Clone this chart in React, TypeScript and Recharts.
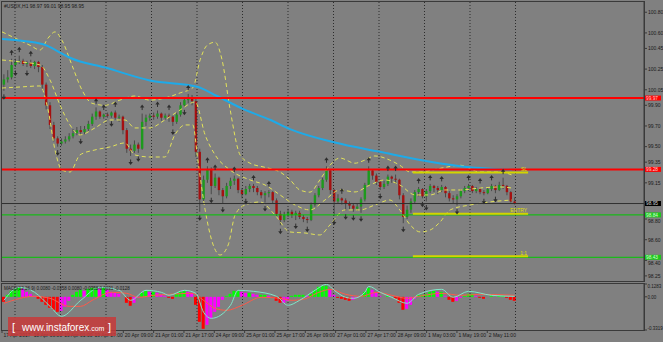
import React from 'react';
import { ComposedChart, Bar, Line, XAxis, YAxis, ReferenceLine, Cell } from 'recharts';

const FONT = '"Liberation Sans", Arial, sans-serif';
const BG = '#808080';
const SLOT_PX = 3.84; // one 2h candle
const X_MAX = 642 / SLOT_PX;

// USDX H1 (sampled every 2 hours)
const firstOpen = 100.1;
const closes = [
  100.15, 100.17, 100.29, 100.32, 100.33, 100.3, 100.31, 100.28, 100.32, 100.27,
  100.1, 99.9, 99.71, 99.58, 99.53, 99.55, 99.57, 99.6, 99.63, 99.66,
  99.64, 99.67, 99.72, 99.79, 99.84, 99.79, 99.81, 99.8, 99.83, 99.78,
  99.79, 99.66, 99.48, 99.46, 99.52, 99.48, 99.74, 99.78, 99.8, 99.79,
  99.82, 99.78, 99.8, 99.79, 99.74, 99.81, 99.9, 99.95, 99.98, 99.94,
  99.45, 98.99, 99.18, 99.28, 99.12, 99.2, 99.08, 99.02, 99.12, 99.17,
  99.19, 99.08, 99.04, 99.09, 99.12, 99.1, 99.06, 99.03, 99.05, 99.06,
  98.98, 98.85, 98.79, 98.84, 98.87, 98.84, 98.86, 98.82, 98.8, 98.79,
  98.94, 99.03, 99.1, 99.18, 99.27, 99.08, 98.97, 99.0, 98.98, 98.95,
  98.93, 98.9, 98.92, 98.99, 99.13, 99.27, 99.22, 99.16, 99.11, 99.14,
  99.21, 99.19, 99.18, 99.03, 98.82, 98.89, 98.97, 99.06, 99.09, 99.02,
  99.07, 99.12, 99.1, 99.08, 99.11, 99.05, 99.0, 98.99, 99.02, 99.07,
  99.1, 99.12, 99.07, 99.09, 99.06, 99.05, 99.09, 99.12, 99.08, 99.13,
  99.12, 99.06, 98.97, 98.95,
];
const highs = [
  100.2, 100.24, 100.35, 100.35, 100.38, 100.35, 100.33, 100.34, 100.33, 100.33,
  100.29, 100.12, 99.93, 99.74, 99.6, 99.58, 99.6, 99.63, 99.67, 99.69,
  99.7, 99.7, 99.75, 99.82, 99.88, 99.85, 99.82, 99.83, 99.84, 99.85,
  99.81, 99.8, 99.68, 99.52, 99.56, 99.54, 99.82, 99.81, 99.82, 99.83,
  99.85, 99.83, 99.82, 99.82, 99.8, 99.83, 99.93, 99.98, 100.01, 100.0,
  99.96, 99.48, 99.22, 99.31, 99.3, 99.24, 99.21, 99.1, 99.15, 99.2,
  99.22, 99.2, 99.1, 99.12, 99.14, 99.14, 99.12, 99.08, 99.07, 99.08,
  99.07, 99.0, 98.88, 98.87, 98.9, 98.89, 98.88, 98.88, 98.84, 98.82,
  98.96, 99.05, 99.12, 99.2, 99.31, 99.28, 99.09, 99.04, 99.01, 99.0,
  98.97, 98.95, 98.95, 99.01, 99.15, 99.31, 99.28, 99.24, 99.18, 99.17,
  99.23, 99.22, 99.23, 99.19, 99.05, 98.93, 99.0, 99.08, 99.11, 99.1,
  99.09, 99.14, 99.13, 99.12, 99.13, 99.12, 99.07, 99.03, 99.04, 99.09,
  99.12, 99.14, 99.13, 99.11, 99.11, 99.08, 99.11, 99.14, 99.13, 99.16,
  99.2, 99.13, 99.07, 99.01,
];
const lows = [
  100.04, 100.12, 100.15, 100.27, 100.3, 100.28, 100.27, 100.26, 100.25, 100.22,
  100.06, 99.86, 99.67, 99.55, 99.5, 99.51, 99.53, 99.55, 99.58, 99.61,
  99.61, 99.62, 99.65, 99.7, 99.76, 99.77, 99.77, 99.78, 99.78, 99.76,
  99.74, 99.62, 99.44, 99.41, 99.44, 99.44, 99.47, 99.7, 99.75, 99.76,
  99.77, 99.75, 99.76, 99.74, 99.7, 99.72, 99.79, 99.89, 99.92, 99.9,
  99.4, 98.87, 98.97, 99.15, 99.04, 99.1, 99.03, 98.95, 99.0, 99.09,
  99.13, 99.05, 99.0, 99.03, 99.06, 99.06, 99.03, 99.0, 98.96, 99.01,
  98.95, 98.82, 98.74, 98.77, 98.82, 98.81, 98.79, 98.8, 98.77, 98.76,
  98.78, 98.92, 99.01, 99.08, 99.16, 99.04, 98.83, 98.95, 98.94, 98.88,
  98.89, 98.87, 98.88, 98.86, 98.97, 99.12, 99.18, 99.13, 99.08, 99.09,
  99.12, 99.15, 99.14, 98.99, 98.76, 98.8, 98.86, 98.95, 99.02, 99.0,
  98.97, 99.05, 99.06, 99.04, 99.06, 99.01, 98.97, 98.95, 98.93, 99.0,
  99.05, 99.07, 99.05, 99.05, 99.04, 99.03, 99.04, 99.07, 99.05, 99.07,
  99.09, 99.03, 98.96, 98.94,
];

const fractalUp = [2, 4, 7, 24, 26, 29, 36, 40, 43, 48, 53, 55, 60, 65, 69, 84, 88, 95, 100, 102, 108, 111, 114, 121, 124, 127, 130];
const fractalDown = [0, 3, 6, 14, 20, 28, 33, 35, 44, 47, 51, 54, 57, 63, 68, 72, 76, 79, 86, 89, 91, 93, 98, 104, 109, 110, 118, 125, 128];

// 200 MA
const maX = [0, 10.7, 15.1, 17.7, 27.3, 38.5, 50.8, 56, 63, 69.8, 75, 86.7, 98.4, 108.9, 119.3, 132.8];
const maY = [100.54, 100.49, 100.41, 100.36, 100.26, 100.14, 100.08, 99.99, 99.86, 99.76, 99.67, 99.54, 99.45, 99.37, 99.31, 99.275];

// Bollinger bands
const upperX = [0, 3.4, 7.3, 9.9, 12, 13.8, 15.6, 18.2, 20.8, 23.4, 26.8, 30.7, 34.6, 38.5, 42.4, 46.4, 49.7, 51.6, 53.4, 55.5, 57.3, 59.4, 62, 64.6, 68.5, 72.4, 75, 77.6, 80.2, 82.8, 85.4, 88, 91.9, 94.5, 97.1, 101, 103.6, 106.3, 108.9, 114.1, 119.3, 124.5, 129.7, 132.8];
const upperY = [100.61, 100.55, 100.48, 100.435, 100.55, 100.61, 100.53, 100.29, 100.05, 99.92, 99.9, 99.95, 99.99, 99.95, 99.97, 100.02, 100.07, 100.34, 100.48, 100.51, 100.34, 99.86, 99.42, 99.34, 99.3, 99.255, 99.18, 99.08, 99.06, 99.18, 99.32, 99.39, 99.34, 99.37, 99.41, 99.37, 99.32, 99.255, 99.255, 99.29, 99.32, 99.255, 99.255, 99.226];
const midX = [0, 4.7, 9.9, 12.5, 15.1, 17.7, 20.3, 24.2, 28.1, 32, 34.6, 38.5, 42.4, 46.4, 50.3, 52.9, 55.5, 59.4, 64.6, 68.5, 72.4, 76.3, 80.2, 84.1, 88, 91.9, 95.8, 99.7, 103.6, 107.6, 111.5, 115.4, 119.3, 124.5, 129.7, 132.8];
const midY = [100.338, 100.32, 100.29, 100.145, 99.903, 99.71, 99.613, 99.681, 99.758, 99.758, 99.681, 99.681, 99.758, 99.855, 99.932, 99.613, 99.42, 99.274, 99.178, 99.129, 99.033, 98.936, 98.888, 98.984, 99.081, 99.062, 99.129, 99.178, 99.129, 99.033, 99.033, 99.081, 99.081, 99.1, 99.11, 99.1];
const lowerX = [0, 4.7, 9.9, 12, 13.8, 15.6, 17.7, 20.3, 24.2, 28.1, 32, 34.6, 38.5, 42.4, 45, 47.7, 49.7, 51, 52.9, 55, 56.8, 58.9, 60.7, 63.3, 67.2, 71.1, 75, 78.9, 82.8, 85.4, 89.3, 93.2, 97.1, 101, 103.6, 106.3, 108.9, 111.5, 114.1, 116.7, 121.9, 127, 132.8];
const lowerY = [100.067, 100.077, 100.087, 99.855, 99.468, 99.274, 99.255, 99.42, 99.468, 99.497, 99.536, 99.42, 99.4, 99.4, 99.613, 99.71, 99.71, 99.371, 98.888, 98.549, 98.452, 98.549, 98.839, 98.936, 98.965, 98.839, 98.675, 98.665, 98.646, 98.743, 98.888, 98.888, 98.936, 98.984, 98.888, 98.743, 98.675, 98.694, 98.772, 98.888, 98.936, 98.965, 98.984];

// MACD panel
const histogram = [
  -0.05, 0.02, 0.06, 0.08, 0.09, 0.08, 0.05, 0.03, 0.01, -0.02,
  -0.05, -0.08, -0.11, -0.13, -0.15, -0.14, -0.1, -0.04, 0.02, 0.05,
  0.07, 0.06, 0.08, 0.09, 0.09, 0.08, 0.09, 0.07, 0.05, 0.04,
  0.03, 0.0, -0.06, -0.09, -0.06, -0.01, 0.04, 0.06, 0.05, 0.05,
  0.04, 0.02, 0.01, -0.01, -0.02, 0.03, 0.05, 0.06, 0.05, 0.04,
  -0.08, -0.25, -0.32, -0.28, -0.22, -0.15, -0.1, -0.03, 0.01, 0.03,
  0.06, 0.06, 0.05, 0.04, 0.04, 0.03, 0.02, 0.02, 0.02, 0.01,
  -0.01, -0.04, -0.06, -0.06, -0.04, 0.01, 0.02, 0.02, 0.02, 0.01,
  0.03, 0.07, 0.1, 0.11, 0.11, 0.07, 0.02, -0.01, -0.02, -0.03,
  -0.04, -0.03, -0.01, 0.01, 0.05, 0.09, 0.07, 0.04, 0.01, 0.0,
  0.01, 0.0, -0.02, -0.06, -0.13, -0.12, -0.08, -0.02, 0.02, 0.02,
  0.03, 0.05, 0.06, 0.05, 0.05, 0.01, -0.03, -0.05, -0.04, -0.01,
  0.01, 0.03, 0.03, 0.01, -0.01, -0.02, 0.0, 0.01, 0.0, 0.01,
  0.01, -0.01, -0.03, -0.04,
];
const macdIdx = [0, 4, 8, 12, 15, 20, 25, 30, 33, 37, 41, 43, 47, 50, 52, 54, 59, 61, 65, 71, 74, 77, 81, 84, 86, 89, 91, 94, 95, 98, 101, 105, 108, 114, 117, 121, 127, 133];
const macdVal = [-0.035, 0.095, 0.045, -0.095, -0.195, -0.035, 0.095, 0.065, -0.035, 0.065, 0.045, 0.015, 0.065, 0.035, -0.155, -0.215, -0.085, 0.065, 0.055, 0.005, -0.085, -0.035, 0.065, 0.125, 0.065, -0.005, -0.015, 0.045, 0.105, 0.045, -0.005, -0.065, 0.025, 0.075, -0.005, 0.055, 0.015, 0.005];
const signalIdx = [0, 8, 12, 17, 20, 23, 28, 32, 35, 39, 43, 49, 52, 55, 58, 62, 67, 72, 75, 78, 82, 85, 89, 93, 97, 101, 105, 108, 114, 119, 124, 133];
const signalVal = [-0.065, 0.005, -0.015, -0.095, -0.095, -0.035, 0.045, 0.035, -0.005, 0.015, 0.025, 0.035, -0.035, -0.115, -0.135, -0.085, -0.005, -0.015, -0.035, -0.025, 0.045, 0.075, 0.025, 0.005, 0.045, 0.015, -0.015, 0.005, 0.035, 0.015, 0.025, 0.015];

const timeLabels = [
  '17 Apr 2017', '18 Apr 09:00', '19 Apr 01:00', '19 Apr 17:00', '20 Apr 09:00', '21 Apr 01:00',
  '21 Apr 17:00', '24 Apr 09:00', '25 Apr 01:00', '25 Apr 17:00', '26 Apr 09:00', '27 Apr 01:00',
  '27 Apr 17:00', '28 Apr 09:00', '1 May 03:00', '1 May 19:00', '2 May 11:00',
];
const priceTicks = [100.8, 100.6, 100.45, 100.25, 100.05, 99.9, 99.7, 99.5, 99.35, 99.15, 98.8, 98.6, 98.4, 98.25];

// levels: resistance / current / entry / target
const resistHigh = 99.97;
const resistLow = 99.28;
const lastPrice = 98.95;
const entryLevel = 98.84;
const targetLevel = 98.43;
const tradeStart = 107;
const tradeEnd = 137;
const tradeSL = 99.25;
const tradeEntry = 98.85;
const tradeTP = 98.44;

// axis positions (in candle units)
const labelTicks = timeLabels.map((_, k) => (k * 30.33) / SLOT_PX);
const gridX = Array.from({ length: 12 }, (_, k) => (13 + 45.5 * k) / SLOT_PX);

const candles = closes.map((c, i) => {
  const o = i === 0 ? firstOpen : closes[i - 1];
  return { x: i + 0.5, o, c, h: highs[i], l: lows[i], range: [lows[i], highs[i]] };
});
const knots = (xs: number[], ys: number[]) => xs.map((x, i) => ({ x, y: ys[i] }));
const idxKnots = (xs: number[], ys: number[]) => xs.map((x, i) => ({ x: x + 0.5, y: ys[i] }));
const upMarks = fractalUp.map((i) => ({ x: i + 0.5, y: highs[i] }));
const downMarks = fractalDown.map((i) => ({ x: i + 0.5, y: lows[i] }));

const histData = histogram.map((v, i) => {
  const prev = i === 0 ? 0 : histogram[i - 1];
  let fill = '#ff00ff';
  if (v >= 0 && v >= prev) fill = '#00ff00';
  if (v < 0 && v < prev) fill = '#ff0000';
  return { x: i + 0.5, h: v, fill };
});

function Candle(props: any) {
  const { x, y, width, height, payload } = props;
  if (!payload || !isFinite(y) || !isFinite(height)) return null;
  const { o, c, h, l } = payload;
  const span = h - l || 1;
  const py = (v: number) => y + ((h - v) / span) * height;
  const cx = x + width / 2;
  const top = py(Math.max(o, c));
  const bot = py(Math.min(o, c));
  const up = c >= o;
  return (
    <g>
      <line x1={cx} x2={cx} y1={y} y2={y + height} stroke="#4a4a4a" strokeWidth={1} />
      <rect x={cx - 1.2} y={top} width={2.4} height={Math.max(1, bot - top)} fill={up ? '#1d9a1d' : '#a51010'} />
    </g>
  );
}

function Arrow({ cx, cy, dir, k }: any) {
  if (cx == null || cy == null) return <g key={k} />;
  const tip = dir === 'up' ? cy - 9 : cy + 9;
  const s = dir === 'up' ? 1 : -1;
  return (
    <g key={k}>
      <polygon points={`${cx},${tip} ${cx - 2.2},${tip + 3 * s} ${cx + 2.2},${tip + 3 * s}`} fill="#2e2e2e" />
      <line x1={cx} x2={cx} y1={tip + 2 * s} y2={tip + 5.5 * s} stroke="#2e2e2e" strokeWidth={1} />
    </g>
  );
}

const priceTag = (text: string, bg: string, fg: string) => (props: any) => {
  const vb = props.viewBox || {};
  const x = (vb.x ?? 0) + (vb.width ?? 0);
  const y = vb.y ?? 0;
  return (
    <g>
      <rect x={x + 1} y={y - 2.5} width={16} height={5} fill={bg} />
      <text x={x + 2} y={y + 1.8} fontSize={4.8} fill={fg} fontFamily={FONT}>
        {text}
      </text>
    </g>
  );
};

const tradeLabel = (text: string) => (props: any) => {
  const vb = props.viewBox || {};
  const x = (vb.x ?? 0) + (vb.width ?? 0);
  const y = vb.y ?? 0;
  return (
    <text x={x - 1} y={y - 1.5} fontSize={5} fill="#e0e000" textAnchor="end" fontFamily={FONT}>
      {text}
    </text>
  );
};

// ticks that sit right under a price tag are nudged below it
const tickNudge: Record<string, number> = { '98.80': 1.8, '98.40': 2.8 };

function PriceTick({ x, y, payload }: any) {
  const label = Number(payload.value).toFixed(2);
  return (
    <text x={x} y={y + 1.8 + (tickNudge[label] ?? 0)} fontSize={5} fill="#1a1a1a" fontFamily={FONT}>
      {label}
    </text>
  );
}

function MacdTick({ x, y, payload }: any) {
  const v = payload.value;
  const label = v === 0 ? '0.00' : v.toFixed(4);
  const dy = v > 0.1 ? 4 : v < -0.3 ? -0.5 : 1.8;
  return (
    <text x={x - 0.5} y={y + dy} fontSize={4.5} fill="#1a1a1a" fontFamily={FONT}>
      {label}
    </text>
  );
}

function TimeTick({ x, y, payload }: any) {
  const k = labelTicks.indexOf(payload.value);
  return (
    <text x={x + 1.5} y={y + 4} fontSize={5} fill="#1a1a1a" fontFamily={FONT}>
      {timeLabels[k]}
    </text>
  );
}

export default function App() {
  const border = '#3a3a3a';
  return (
    <div style={{ position: 'fixed', left: 0, top: 0, width: 663, height: 342, background: BG, overflow: 'hidden' }}>
      <div style={{ position: 'absolute', left: 1, top: 1, width: 644, height: 281, border: `1px solid ${border}`, boxSizing: 'border-box' }} />
      <div style={{ position: 'absolute', left: 1, top: 283, width: 644, height: 48, border: `1px solid ${border}`, boxSizing: 'border-box' }} />

      <div style={{ position: 'absolute', left: 0, top: 0 }}>
        <ComposedChart width={663} height={282} data={candles} margin={{ top: 2, right: 0, bottom: 0, left: 2 }}>
          <XAxis dataKey="x" type="number" domain={[0, X_MAX]} allowDataOverflow hide />
          <YAxis
            orientation="right"
            width={19}
            domain={[98.191, 100.899]}
            allowDataOverflow
            ticks={priceTicks}
            interval={0}
            tickSize={3}
            tickMargin={1}
            tick={(p: any) => <PriceTick {...p} />}
            axisLine={{ stroke: border }}
            tickLine={{ stroke: border }}
          />
          {gridX.map((g) => (
            <ReferenceLine key={`g${g}`} x={g} stroke="#2c2c2c" strokeDasharray="1 2" />
          ))}
          <Bar dataKey="range" barSize={3} isAnimationActive={false} shape={(p: any) => <Candle {...p} />} />
          <Line data={knots(upperX, upperY)} dataKey="y" type="monotone" stroke="#e2e25a" strokeDasharray="4 3" dot={false} isAnimationActive={false} />
          <Line data={knots(midX, midY)} dataKey="y" type="monotone" stroke="#e2e25a" strokeDasharray="4 3" dot={false} isAnimationActive={false} />
          <Line data={knots(lowerX, lowerY)} dataKey="y" type="monotone" stroke="#e2e25a" strokeDasharray="4 3" dot={false} isAnimationActive={false} />
          <Line data={knots(maX, maY)} dataKey="y" type="monotone" stroke="#1eaae8" strokeWidth={2} dot={false} isAnimationActive={false} />
          <ReferenceLine y={resistHigh} stroke="#ff0000" strokeWidth={2} label={priceTag('99.97', '#ff0000', '#ffd0d0')} />
          <ReferenceLine y={resistLow} stroke="#ff0000" strokeWidth={2} label={priceTag('99.28', '#ff0000', '#ffd0d0')} />
          <ReferenceLine y={lastPrice} stroke="#303030" label={priceTag('98.95', '#000000', '#d0d0d0')} />
          <ReferenceLine y={entryLevel} stroke="#00c800" label={priceTag('98.84', '#1cc81c', '#d8ffd8')} />
          <ReferenceLine y={targetLevel} stroke="#00c800" label={priceTag('98.43', '#1cc81c', '#d8ffd8')} />
          <ReferenceLine segment={[{ x: tradeStart, y: tradeSL }, { x: tradeEnd, y: tradeSL }]} stroke="#d4d400" strokeWidth={2} label={tradeLabel('SL')} />
          <ReferenceLine segment={[{ x: tradeStart, y: tradeEntry }, { x: tradeEnd, y: tradeEntry }]} stroke="#d4d400" strokeWidth={2} label={tradeLabel('ENTRY')} />
          <ReferenceLine segment={[{ x: tradeStart, y: tradeTP }, { x: tradeEnd, y: tradeTP }]} stroke="#d4d400" strokeWidth={2} label={tradeLabel('1:1')} />
          <Line data={upMarks} dataKey="y" stroke="none" isAnimationActive={false} dot={(p: any) => <Arrow k={`u${p.index}`} key={`u${p.index}`} cx={p.cx} cy={p.cy} dir="up" />} />
          <Line data={downMarks} dataKey="y" stroke="none" isAnimationActive={false} dot={(p: any) => <Arrow k={`d${p.index}`} key={`d${p.index}`} cx={p.cx} cy={p.cy} dir="down" />} />
        </ComposedChart>
      </div>

      <div style={{ position: 'absolute', left: 0, top: 283 }}>
        <ComposedChart width={663} height={59} data={histData} margin={{ top: 1, right: 0, bottom: 0, left: 2 }}>
          <XAxis
            dataKey="x"
            type="number"
            domain={[0, X_MAX]}
            allowDataOverflow
            ticks={labelTicks}
            interval={0}
            height={12}
            tickSize={3}
            tickMargin={0}
            axisLine={false}
            tickLine={{ stroke: border }}
            tick={(p: any) => <TimeTick {...p} />}
          />
          <YAxis
            orientation="right"
            width={19}
            domain={[-0.3319, 0.1283]}
            allowDataOverflow
            ticks={[0.1283, 0, -0.3319]}
            interval={0}
            tickSize={3}
            tickMargin={1}
            axisLine={{ stroke: border }}
            tickLine={{ stroke: border }}
            tick={(p: any) => <MacdTick {...p} />}
          />
          {gridX.map((g) => (
            <ReferenceLine key={`mg${g}`} x={g} stroke="#2c2c2c" strokeDasharray="1 2" />
          ))}
          <Bar dataKey="h" barSize={3} isAnimationActive={false}>
            {histData.map((d, i) => (
              <Cell key={i} fill={d.fill} />
            ))}
          </Bar>
          <Line data={idxKnots(signalIdx, signalVal)} dataKey="y" type="monotone" stroke="#ff5a4a" dot={false} isAnimationActive={false} />
          <Line data={idxKnots(macdIdx, macdVal)} dataKey="y" type="monotone" stroke="#7fe6c8" dot={false} isAnimationActive={false} />
        </ComposedChart>
      </div>

      <svg width={663} height={342} style={{ position: 'absolute', left: 0, top: 0, pointerEvents: 'none' }}>
        <text x={4} y={8} fontSize={5} fill="#1a1a1a" fontFamily={FONT}>
          #USDX,H1  98.97 99.01 98.95 98.95
        </text>
        <text x={4} y={290} fontSize={4.5} fill="#1a1a1a" fontFamily={FONT}>
          MACD(12,26,9) 0.0080 -0.0358 0.0080 -0.0358 0.0031 -0.0128
        </text>
        <rect x={8} y={317} width={108} height={19} fill="#c83a3a" opacity={0.85} />
        <text x={12} y={331} fontSize={11} fill="#ffffff" fontFamily={FONT}>
          [
        </text>
        <text x={22} y={331} fontSize={10} fill="#ffffff" fontFamily={FONT}>
          www.instaforex<tspan fontSize={7}>.com</tspan>
        </text>
        <text x={108} y={331} fontSize={11} fill="#ffffff" fontFamily={FONT}>
          ]
        </text>
      </svg>
    </div>
  );
}
